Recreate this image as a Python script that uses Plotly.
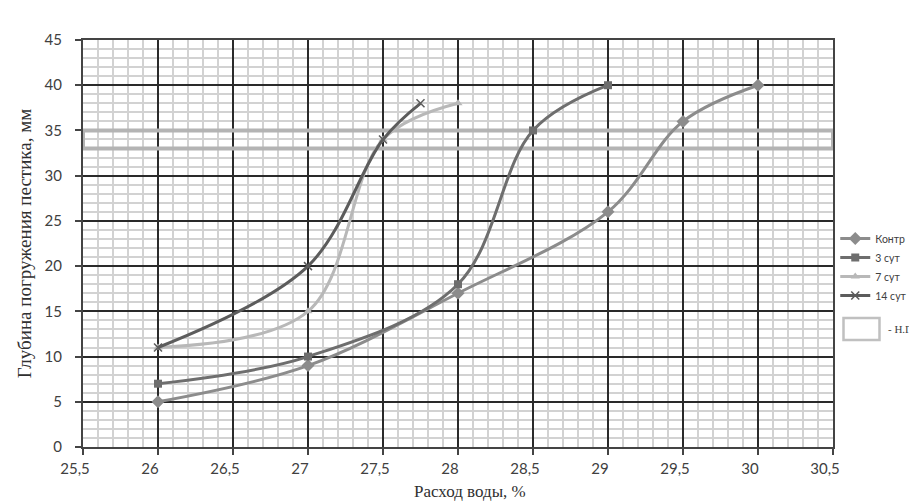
import plotly.graph_objects as go

# water content, % and plunger depth, mm
KONTR_X = [26, 27, 28, 29, 29.5, 30]
KONTR_Y = [5, 9, 17, 26, 36, 40]

D3_X = [26, 27, 28, 28.5, 29]
D3_Y = [7, 10, 18, 35, 40]

D7_X = [26, 27, 27.5, 28]
D7_Y = [11, 15, 34, 38]

D14_X = [26, 27, 27.5, 27.75]
D14_Y = [11, 20, 34, 38]

NG_LOW, NG_HIGH = 33, 35  # normal consistency band
X_RANGE = [25.5, 30.5]
Y_RANGE = [0, 45]

TICK_FONT = dict(family="Lato", size=15, color="#404040")
SERIF = "Liberation Serif"

series = [
    ("Контр", KONTR_X, KONTR_Y, "#8c8c8c", dict(symbol="diamond", size=10)),
    ("3 сут", D3_X, D3_Y, "#6e6e6e", dict(symbol="square", size=8)),
    ("7 сут", D7_X, D7_Y, "#b8b8b8", dict(symbol="triangle-up", size=8)),
    ("14 сут", D14_X, D14_Y, "#5c5c5c",
     dict(symbol="x-thin-open", size=8, line=dict(width=1.5, color="#5c5c5c"))),
]

fig = go.Figure()
for name, xs, ys, col, mk in series:
    fig.add_trace(go.Scatter(
        x=xs, y=ys, name=name, mode="lines+markers",
        line=dict(color=col, width=3, shape="spline", smoothing=1),
        marker=dict(color=col, **mk),
    ))

# Н.Г band
fig.add_shape(type="rect", xref="x", yref="y",
              x0=X_RANGE[0], x1=X_RANGE[1], y0=NG_LOW, y1=NG_HIGH,
              line=dict(color="#b4b4b4", width=4), fillcolor="rgba(0,0,0,0)",
              layer="between")

# legend box for Н.Г
fig.add_shape(type="rect", xref="paper", yref="paper",
              x0=1.014, x1=1.062, y0=0.263, y1=0.317,
              line=dict(color="#c0c0c0", width=2.5), fillcolor="white")
fig.add_annotation(text="- Н.Г", xref="paper", yref="paper", x=1.07, y=0.29,
                   xanchor="left", yanchor="middle", showarrow=False,
                   font=dict(family=SERIF, size=11, color="#404040"))

# x title
fig.add_annotation(text="Расход воды, %", xref="paper", yref="paper", x=0.516, y=-0.082,
                   xanchor="center", yanchor="top", showarrow=False,
                   font=dict(family=SERIF, size=17, color="#303030"))

axis_common = dict(
    showline=True, linecolor="#444444", linewidth=2, mirror=True,
    ticks="outside", ticklen=6, tickcolor="#444444", tickwidth=1.5,
    tickfont=TICK_FONT, zeroline=False,
    gridcolor="#2a2a2a", gridwidth=1.5,
)

fig.update_xaxes(
    range=X_RANGE, dtick=0.5, tick0=25.5, ticklabelstandoff=1, ticklabelshift=-8,
    minor=dict(dtick=0.1, showgrid=True, gridcolor="#d2d2d2", gridwidth=2, ticks=""),
    **axis_common,
)
fig.update_yaxes(
    range=Y_RANGE, dtick=5, ticklabelstandoff=10,
    minor=dict(dtick=1, showgrid=True, gridcolor="#d2d2d2", gridwidth=2, ticks=""),
    title=dict(text="Глубина погружения пестика, мм", standoff=8,
               font=dict(family=SERIF, size=19, color="#303030")),
    **axis_common,
)

fig.update_layout(
    width=917, height=503,
    margin=dict(l=75, r=92, t=32, b=64, autoexpand=False),
    paper_bgcolor="white", plot_bgcolor="white",
    separators=", ",
    showlegend=True,
    legend=dict(x=1.003, y=0.548, xanchor="left", yanchor="top",
                font=dict(family="Lato", size=10.5, color="#404040"),
                itemwidth=30, tracegroupgap=0, bgcolor="rgba(0,0,0,0)"),
)

fig.write_html("out.html")
